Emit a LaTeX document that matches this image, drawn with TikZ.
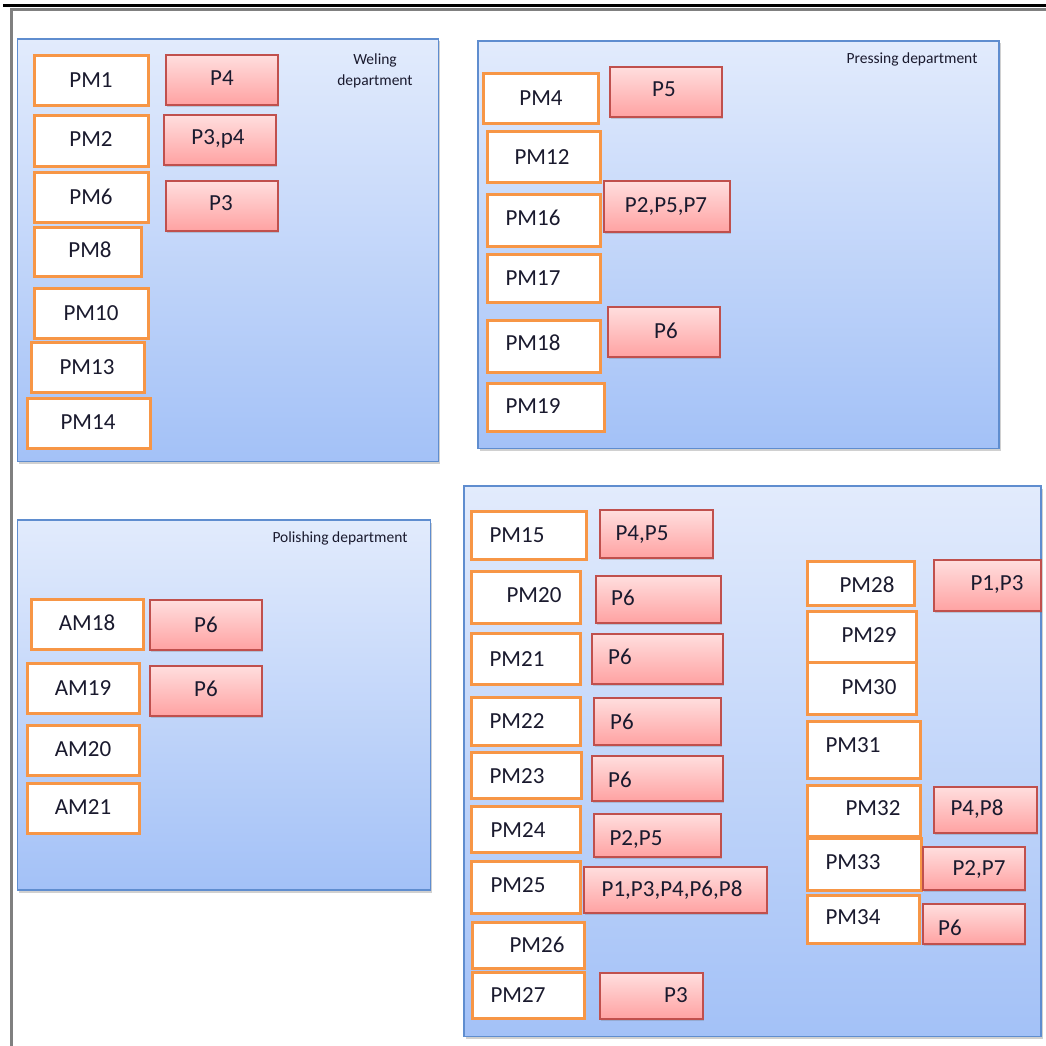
\documentclass[tikz,border=0pt]{standalone}
\usepackage{fontspec}
\setmainfont{Carlito}
\usetikzlibrary{shadows}
\definecolor{deptborder}{HTML}{5F8DCF}
\definecolor{depttop}{HTML}{E2EBFC}
\definecolor{deptbot}{HTML}{A3C1F7}
\definecolor{pmorange}{HTML}{F79646}
\definecolor{pborder}{HTML}{C0504D}
\definecolor{ptop}{HTML}{FFDEDE}
\definecolor{pbot}{HTML}{FFA2A2}
\definecolor{txt}{HTML}{1A1A2E}
\definecolor{framegray}{HTML}{808080}
\tikzset{
  dept/.style={draw=deptborder, line width=1.6pt, top color=depttop, bottom color=deptbot,
    drop shadow={shadow xshift=1.5pt, shadow yshift=-2.5pt, opacity=0.3, fill=black!60}},
  pmbox/.style={draw=pmorange, line width=3pt, fill=white},
  pbox/.style={draw=pborder, line width=1.6pt, top color=ptop, bottom color=pbot,
    drop shadow={shadow xshift=1pt, shadow yshift=-2pt, opacity=0.25, fill=black!60}},
  boxtext/.style={font=\fontsize{23}{27}\selectfont, text=txt, inner sep=0pt, text height=14.8pt, text depth=0pt},
  depttext/.style={font=\fontsize{15.5}{21}\selectfont, text=txt, inner sep=0pt, align=center}
}
% #1 name, #2 x1, #3 y1, #4 x2, #5 y2, #6 tx, #7 ty, #8 text
\newcommand\pmnode[8]{\path[pmbox] (#2,#3) rectangle (#4,#5); \node[boxtext] (#1) at (#6,#7) {#8};}
\newcommand\pnode[8]{\path[pbox] (#2,#3) rectangle (#4,#5); \node[boxtext] (#1) at (#6,#7) {#8};}
\begin{document}
\begin{tikzpicture}[x=1pt, y=-1pt]
\useasboundingbox (0,0) rectangle (1046,1046);
\fill[white] (0,0) rectangle (1046,1046);
% frame
\draw[black, line width=3pt] (3,5.5) -- (1046,5.5);
\draw[framegray, line width=3pt] (10,10) -- (1046,10);
\draw[framegray, line width=3pt] (11.5,8.5) -- (11.5,1046);
% departments
\path[dept] (17.5,39) rectangle (438.5,461.5);
\path[dept] (478,41) rectangle (999,448.5);
\path[dept] (17.5,520) rectangle (430.5,890);
\path[dept] (464,486) rectangle (1041,1036.5);
\node[depttext] (wlabel) at (375,71) {Weling\\department};
\node[depttext] (plabel) at (912,59) {Pressing department};
\node[depttext] (polabel) at (340,538) {Polishing department};
% Welding
\pmnode{pm1}{34}{56}{148}{106}{91}{80}{PM1}
\pmnode{pm2}{34}{116}{148}{166}{91}{139}{PM2}
\pmnode{pm6}{34}{172}{148}{222}{91}{197}{PM6}
\pmnode{pm8}{34}{227}{141}{276}{90}{250}{PM8}
\pmnode{pm10}{34}{288}{148}{338}{91}{313}{PM10}
\pmnode{pm13}{31}{342}{144}{392}{87}{367}{PM13}
\pmnode{pm14}{27}{398}{150}{448}{88}{422}{PM14}
\pnode{w-p4}{166}{55}{278}{105}{222}{78}{P4}
\pnode{w-p34}{164}{115}{276}{165}{218}{137}{P3,p4}
\pnode{w-p3}{166}{181}{278}{231}{221}{203}{P3}
% Pressing
\pmnode{pm4}{483}{74}{598}{124}{541}{98}{PM4}
\pmnode{pm12}{487}{132}{600}{182}{542}{157}{PM12}
\pmnode{pm16}{487}{194}{600}{246}{533}{218}{PM16}
\pmnode{pm17}{487}{254}{600}{302}{533}{278}{PM17}
\pmnode{pm18}{487}{320}{600}{372}{533}{343}{PM18}
\pmnode{pm19}{487}{383}{604}{431}{533}{406}{PM19}
\pnode{pr-p5}{610}{67}{722}{117}{664}{89}{P5}
\pnode{pr-p257}{604}{181}{730}{232}{666}{205}{P2,P5,P7}
\pnode{pr-p6}{608}{307}{720}{357}{666}{331}{P6}
% Polishing
\pmnode{am18}{31}{599}{143}{649}{87}{623}{AM18}
\pmnode{am19}{27}{663}{139}{713}{83}{688}{AM19}
\pmnode{am20}{27}{725}{139}{775}{83}{749}{AM20}
\pmnode{am21}{27}{783}{139}{833}{83}{807}{AM21}
\pnode{po-p6a}{150}{600}{262}{650}{206}{625}{P6}
\pnode{po-p6b}{150}{666}{262}{716}{206}{689}{P6}
% Bottom right department
\pmnode{pm15}{471}{511}{586}{559}{517}{535}{PM15}
\pmnode{pm20}{471}{571}{580}{623}{534}{595}{PM20}
\pmnode{pm21}{471}{633}{580}{684}{517}{659}{PM21}
\pmnode{pm22}{471}{697}{580}{745}{517}{721}{PM22}
\pmnode{pm23}{471}{752}{581}{798}{517}{776}{PM23}
\pmnode{pm24}{471}{806}{580}{852}{518}{830}{PM24}
\pmnode{pm25}{471}{861}{580}{913}{518}{885}{PM25}
\pmnode{pm26}{472}{922}{584}{968}{537}{945}{PM26}
\pmnode{pm27}{472}{972}{584}{1018}{518}{995}{PM27}
\pmnode{pm28}{807}{561}{914}{605}{867}{585}{PM28}
\pmnode{pm29}{807}{611}{916}{662}{869}{635}{PM29}
\pmnode{pm30}{807}{662}{916}{714}{869}{687}{PM30}
\pmnode{pm31}{807}{721}{920}{778}{853}{745}{PM31}
\pmnode{pm32}{807}{785}{920}{836}{873}{808}{PM32}
\pmnode{pm33}{807}{838}{921}{890}{853}{862}{PM33}
\pmnode{pm34}{807}{895}{919}{943}{853}{917}{PM34}
\pnode{a-p45}{600}{510}{713}{558}{642}{533}{P4,P5}
\pnode{a-p6a}{596}{576}{721}{623}{623}{598}{P6}
\pnode{a-p6b}{592}{634}{723}{684}{620}{657}{P6}
\pnode{a-p6c}{594}{698}{721}{745}{622}{722}{P6}
\pnode{a-p6d}{592}{756}{723}{801}{620}{780}{P6}
\pnode{a-p25}{594}{814}{721}{857}{636}{838}{P2,P5}
\pnode{a-p13468}{584}{867}{767}{913}{672}{889}{P1,P3,P4,P6,P8}
\pnode{a-p3}{600}{973}{703}{1019}{676}{995}{P3}
\pnode{a-p13}{934}{560}{1041}{611}{997}{583}{P1,P3}
\pnode{a-p48}{934}{787}{1037}{833}{977}{808}{P4,P8}
\pnode{a-p27}{923}{847}{1025}{890}{979}{868}{P2,P7}
\pnode{a-p6e}{923}{904}{1025}{944}{950}{928}{P6}
\end{tikzpicture}
\end{document}
